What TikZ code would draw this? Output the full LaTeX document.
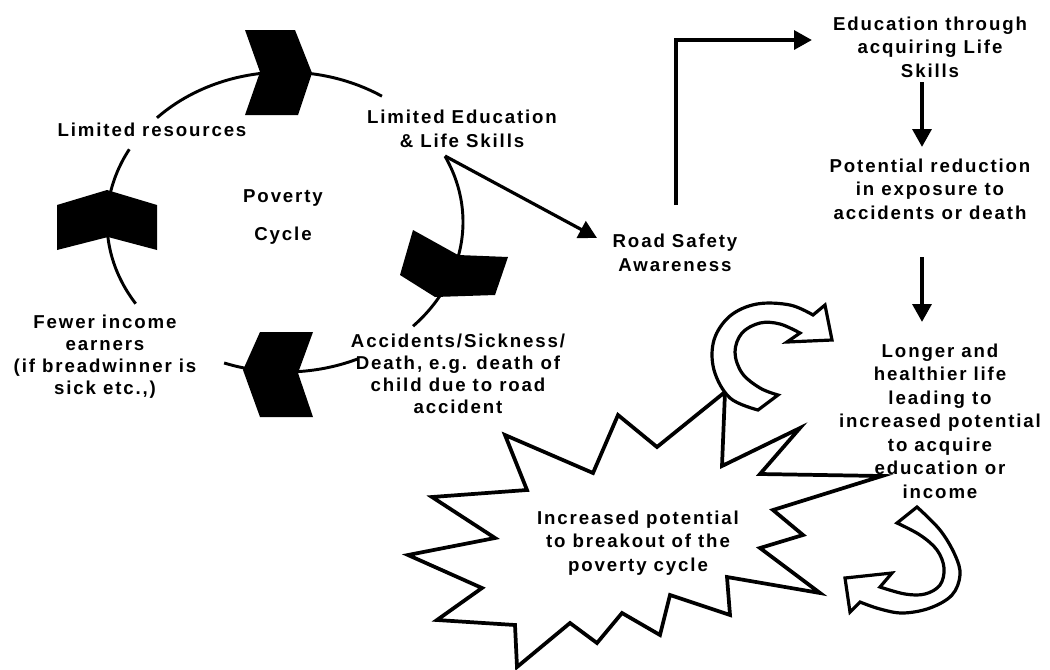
\documentclass[tikz,border=0pt]{standalone}
\usepackage{fontspec}
\newfontfamily\lbl{Liberation Sans}[LetterSpace=10]
\usetikzlibrary{arrows.meta}
\begin{document}
\begin{tikzpicture}[x=0.75pt,y=-0.75pt,
  txt/.style={inner sep=0pt, align=center, font=\lbl\bfseries\fontsize{14}{17.6}\selectfont},
  txtb/.style={txt, font=\lbl\bfseries\fontsize{14}{16.5}\selectfont},
  cycline/.style={line width=2.2pt},
  chev/.style={fill=black},
  arr/.style={line width=3.2pt, -{Triangle[length=13.5pt,width=14pt]}},
  burst/.style={draw=black, fill=white, line width=2.8pt, line join=miter},
  blockarrow/.style={draw=black, fill=white, line width=2.4pt, line join=miter},
]
\useasboundingbox[fill=white] (0,0) rectangle (1050,669);

% poverty cycle ellipse arcs
\draw[cycline] plot[domain=136:57, samples=40, smooth] ({285+178*cos(\x)},{222-150*sin(\x)});
\draw[cycline] plot[domain=26:-44, samples=40, smooth] ({285+178*cos(\x)},{222-150*sin(\x)});
\draw[cycline] plot[domain=-66:-110, samples=30, smooth] ({285+178*cos(\x)},{222-150*sin(\x)});
\draw[cycline] plot[domain=151:213, samples=30, smooth] ({285+178*cos(\x)},{222-150*sin(\x)});

% chevrons
\fill[chev] (245,30) -- (295,30) -- (312,73) -- (298,115) -- (245,115) -- (260,72) -- cycle;
\fill[chev] (413,230) -- (458,255) -- (508,257) -- (495,295) -- (435,297) -- (400,275) -- cycle;
\fill[chev] (260,332) -- (313,332) -- (298,373) -- (313,417) -- (260,417) -- (243,370) -- cycle;
\fill[chev] (57,205) -- (107,190) -- (157,205) -- (157,250) -- (108,237) -- (57,250) -- cycle;

% starburst
\draw[burst] (505,435) -- (593,473) -- (618,415) -- (657,447) -- (725,392) -- (722,466)
  -- (800,428) -- (760,474) -- (882,476) -- (773,510) -- (803,535) -- (760,548)
  -- (820,593) -- (727,577) -- (730,615) -- (670,595) -- (660,635) -- (622,613)
  -- (597,643) -- (570,623) -- (517,667) -- (515,625) -- (437,620) -- (482,588)
  -- (408,555) -- (495,538) -- (432,497) -- (527,490) -- cycle;

% curved block arrows
\draw[blockarrow] plot[smooth, tension=0.6] coordinates {(758,410) (730,398) (714,370) (714,340) (730,316) (757,304) (790,305) (813,315)}
  -- (825,305) -- (832,340) -- (787,342) -- (800,333)
  -- plot[smooth, tension=0.6] coordinates {(800,333) (780,324) (760,323) (742,333) (735,352) (742,373) (760,388) (778,395)} -- cycle;
\draw[blockarrow] plot[smooth, tension=0.6] coordinates {(917,507) (940,530) (955,555) (960,575) (952,595) (930,608) (903,613) (880,609) (860,602)}
  -- (850,612) -- (845,578) -- (892,573) -- (880,587)
  -- plot[smooth, tension=0.6] coordinates {(880,587) (905,594) (925,594) (940,585) (944,568) (937,550) (920,535) (897,523)} -- cycle;

% text nodes
\node[txt] (lr) at (152,130) {Limited resources};
\node[txt] (le) at (462,129) {Limited Education\\\& Life Skills};
\node[txt] (pv) at (283,198) {Poverty};
\node[txt] (cy) at (283,236) {Cycle};
\node[txtb] (fe) at (105,357) {Fewer income\\earners\\(if breadwinner is\\sick etc.,)};
\node[txtb] (ac) at (458,374) {Accidents/Sickness/\\Death, e.g. death of\\child due to road\\accident};
\node[txt] (rs) at (675,253) {Road Safety\\Awareness};
\node[txt] (ed) at (930,47) {Education through\\acquiring Life\\Skills};
\node[txt] (po) at (930,189) {Potential reduction\\in exposure to\\accidents or death};
\node[txt] (lo) at (940,421) {Longer and\\healthier life\\leading to\\increased potential\\to acquire\\education or\\income};
\node[txt] (br) at (638,543) {Increased potential\\to breakout of the\\poverty cycle};

% connector coordinates
\coordinate (leS) at (445,156);
\coordinate (rsW) at (597,238);
\coordinate (rsN) at (676,205);
\coordinate (edW) at (812,40);
\coordinate (edS) at (922,82);
\coordinate (poN) at (922,147);
\coordinate (poS) at (922,257);
\coordinate (loN) at (922,322);

\draw[arr, line width=2.4pt] (leS) -- (rsW);
\draw[arr] (rsN) |- (edW);
\draw[arr] (edS) -- (poN);
\draw[arr] (poS) -- (loN);
\end{tikzpicture}
\end{document}
